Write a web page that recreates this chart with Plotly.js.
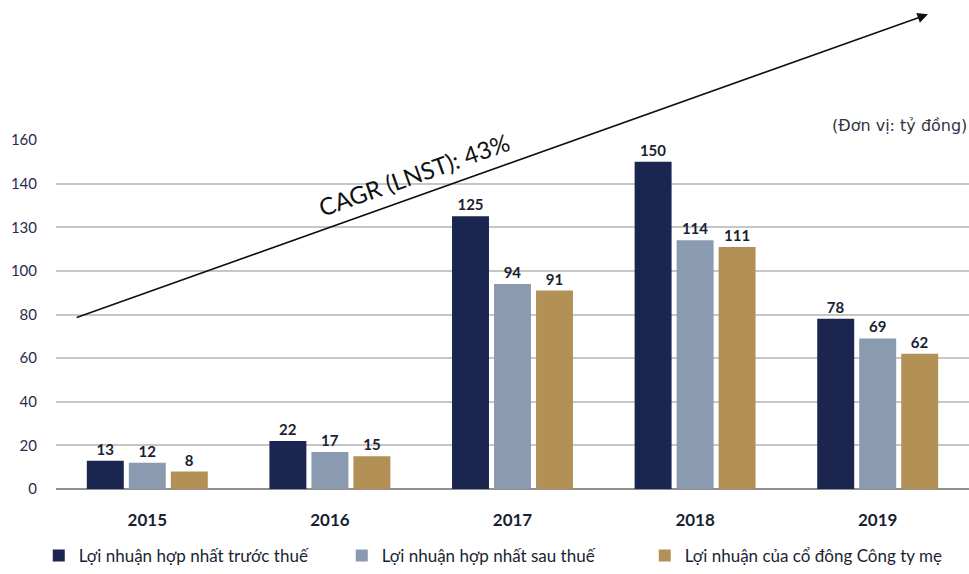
<!DOCTYPE html>
<html>
<head>
<meta charset="utf-8">
<script src="https://cdn.plot.ly/plotly-3.0.1.min.js"></script>
<style>html,body{margin:0;padding:0;background:#fff;}#chart{width:969px;height:574px;}</style>
</head>
<body>
<div id="chart"></div>
<script>
var years = ["2015", "2016", "2017", "2018", "2019"];
var seriesNames = ["Lợi nhuận hợp nhất trước thuế", "Lợi nhuận hợp nhất sau thuế", "Lợi nhuận của cổ đông Công ty mẹ"];
var truocThue = [13, 22, 125, 150, 78];
var sauThue = [12, 17, 94, 114, 69];
var coDongMe = [8, 15, 91, 111, 62];
var yTickVals = [0, 20, 40, 60, 80, 100, 120, 140, 160];
var yTickText = ["0", "20", "40", "60", "80", "100", "130", "140", "160"];
var colors = ["#1a2650", "#8a9ab0", "#b39156"];
var allSeries = [truocThue, sauThue, coDongMe];

var labelFont = {family: "Lato, 'Open Sans', sans-serif", size: 15, color: "#1a1f33", weight: 700};

var traces = allSeries.map(function (vals, i) {
  return {
    type: "bar",
    name: seriesNames[i],
    x: years,
    y: vals,
    marker: {color: colors[i]},
    text: vals.map(String),
    textposition: "outside",
    textfont: labelFont,
    cliponaxis: false,
    hoverinfo: "skip"
  };
});

var layout = {
  width: 969,
  height: 574,
  margin: {l: 56, r: 0, t: 140, b: 85},
  paper_bgcolor: "#ffffff",
  plot_bgcolor: "#ffffff",
  barmode: "group",
  bargap: 0.31,
  bargroupgap: 0.12,
  showlegend: true,
  legend: {
    orientation: "h",
    xref: "container",
    yref: "container",
    x: 0.04, xanchor: "left",
    y: -0.011, yanchor: "bottom",
    font: {family: "Lato, 'Open Sans', sans-serif", size: 17, color: "#1a1f33"},
    entrywidth: 258,
    traceorder: "normal"
  },
  xaxis: {
    type: "category",
    range: [-0.5, 4.5],
    showgrid: false,
    showline: false,
    ticks: "",
    tickfont: {family: "Lato, 'Open Sans', sans-serif", size: 17, color: "#1a1f33", weight: 700},
    ticklabelstandoff: 19
  },
  yaxis: {
    range: [0, 160],
    tickvals: yTickVals,
    ticktext: yTickText,
    showgrid: true,
    gridcolor: "#c6c6c6",
    gridwidth: 2,
    zeroline: true,
    zerolinecolor: "#8f8f8f",
    zerolinewidth: 2,
    showline: false,
    ticks: "",
    ticklabelstandoff: 18,
    tickfont: {family: "Lato, 'Open Sans', sans-serif", size: 15, color: "#2a2a4a"}
  },
  annotations: [
    {
      xref: "paper", yref: "paper",
      axref: "paper", ayref: "paper",
      x: 0.955, y: 1.36,
      ax: 0.021, ay: 0.49,
      showarrow: true,
      arrowhead: 2,
      arrowsize: 1.3,
      arrowwidth: 1.6,
      arrowcolor: "#111111",
      text: ""
    },
    {
      xref: "paper", yref: "paper",
      x: 0.392, y: 0.9,
      xanchor: "center", yanchor: "middle",
      text: "CAGR (LNST): 43%",
      showarrow: false,
      textangle: -19.6,
      font: {family: "Lato, 'Open Sans', sans-serif", size: 24, color: "#111111"}
    },
    {
      xref: "paper", yref: "paper",
      x: 1.0, y: 1.0,
      xanchor: "right", yanchor: "bottom",
      yshift: 3,
      text: "(Đơn vị: tỷ đồng)",
      showarrow: false,
      font: {family: "'DejaVu Sans', sans-serif", size: 16, color: "#333344"}
    }
  ]
};

Plotly.newPlot("chart", traces, layout, {displayModeBar: false, staticPlot: true});
</script>
</body>
</html>
